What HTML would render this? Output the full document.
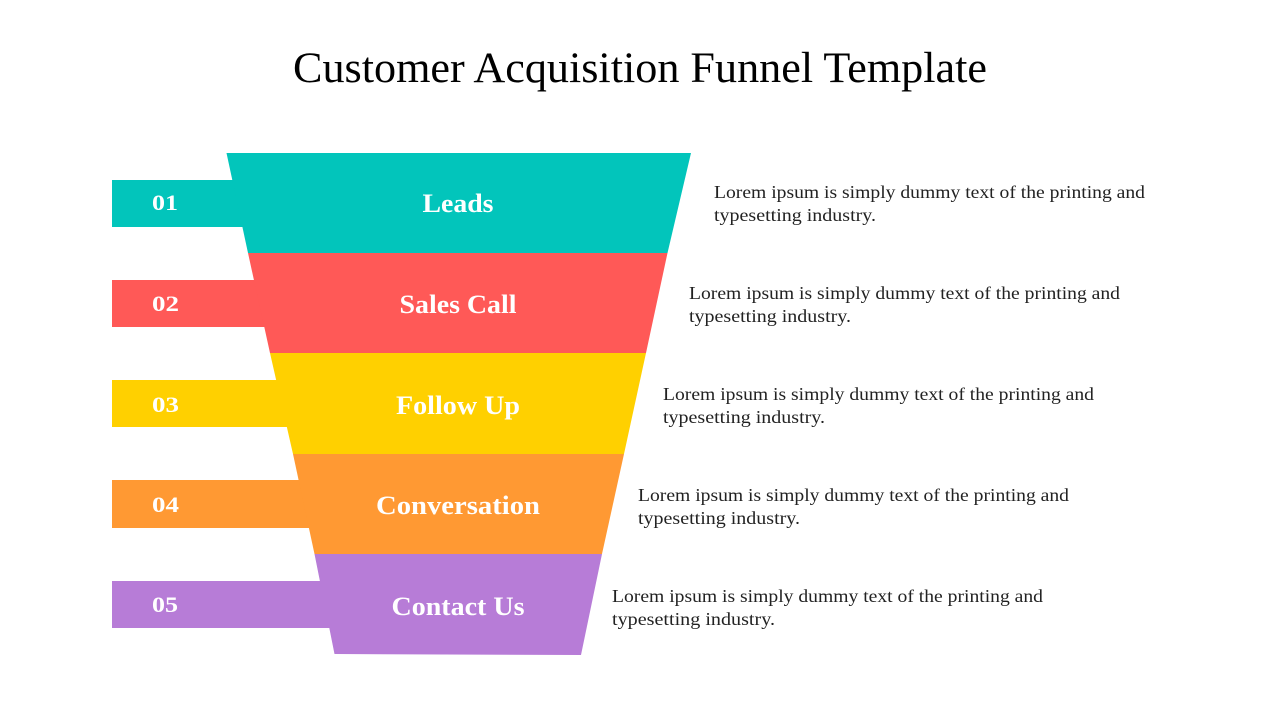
<!DOCTYPE html>
<html>
<head>
<meta charset="utf-8">
<style>
html,body{margin:0;padding:0;background:#fff;}
svg{display:block;}
</style>
</head>
<body>
<svg width="1280" height="720" viewBox="0 0 1280 720" xmlns="http://www.w3.org/2000/svg">
<rect width="1280" height="720" fill="#fff"/>
<text x="640" y="82" text-anchor="middle" font-family="Liberation Serif, serif" font-size="43" fill="#000" textLength="694" lengthAdjust="spacingAndGlyphs">Customer Acquisition Funnel Template</text>

<!-- tabs -->
<rect x="112" y="180" width="180" height="47" fill="#02C5BB"/>
<rect x="112" y="280" width="200" height="47" fill="#FF5957"/>
<rect x="112" y="380" width="220" height="47" fill="#FFD000"/>
<rect x="112" y="480" width="240" height="48" fill="#FF9933"/>
<rect x="112" y="581" width="260" height="47" fill="#B77CD7"/>

<!-- funnel bands -->
<polygon points="226.5,153 691,153 667.5,253 248,253" fill="#02C5BB"/>
<polygon points="248,253 667.5,253 646,353 270,353" fill="#FF5957"/>
<polygon points="270,353 646,353 624,454 293,454" fill="#FFD000"/>
<polygon points="293,454 624,454 602,554 314.5,554" fill="#FF9933"/>
<polygon points="314.5,554 602,554 581,655 334.5,654" fill="#B77CD7"/>

<!-- numbers -->
<g font-family="Liberation Serif, serif" font-weight="bold" font-size="22" fill="#fff">
<text x="152" y="210" textLength="26" lengthAdjust="spacingAndGlyphs">01</text>
<text x="152" y="311" textLength="27" lengthAdjust="spacingAndGlyphs">02</text>
<text x="152" y="412" textLength="27" lengthAdjust="spacingAndGlyphs">03</text>
<text x="152" y="512" textLength="27" lengthAdjust="spacingAndGlyphs">04</text>
<text x="152" y="612" textLength="26" lengthAdjust="spacingAndGlyphs">05</text>
</g>

<!-- labels -->
<g font-family="Liberation Serif, serif" font-weight="bold" font-size="26" fill="#fff" text-anchor="middle">
<text x="458" y="212" textLength="71" lengthAdjust="spacingAndGlyphs">Leads</text>
<text x="458" y="313" textLength="117" lengthAdjust="spacingAndGlyphs">Sales Call</text>
<text x="458" y="414" textLength="124" lengthAdjust="spacingAndGlyphs">Follow Up</text>
<text x="458" y="514" textLength="164" lengthAdjust="spacingAndGlyphs">Conversation</text>
<text x="458" y="615" textLength="133" lengthAdjust="spacingAndGlyphs">Contact Us</text>
</g>

<!-- descriptions -->
<g font-family="Liberation Serif, serif" font-size="18" fill="#222">
<text x="714" y="198" textLength="431" lengthAdjust="spacingAndGlyphs">Lorem ipsum is simply dummy text of the printing and</text>
<text x="714" y="221" textLength="162" lengthAdjust="spacingAndGlyphs">typesetting industry.</text>
<text x="689" y="299" textLength="431" lengthAdjust="spacingAndGlyphs">Lorem ipsum is simply dummy text of the printing and</text>
<text x="689" y="322" textLength="162" lengthAdjust="spacingAndGlyphs">typesetting industry.</text>
<text x="663" y="400" textLength="431" lengthAdjust="spacingAndGlyphs">Lorem ipsum is simply dummy text of the printing and</text>
<text x="663" y="423" textLength="162" lengthAdjust="spacingAndGlyphs">typesetting industry.</text>
<text x="638" y="501" textLength="431" lengthAdjust="spacingAndGlyphs">Lorem ipsum is simply dummy text of the printing and</text>
<text x="638" y="524" textLength="162" lengthAdjust="spacingAndGlyphs">typesetting industry.</text>
<text x="612" y="602" textLength="431" lengthAdjust="spacingAndGlyphs">Lorem ipsum is simply dummy text of the printing and</text>
<text x="612" y="625" textLength="163" lengthAdjust="spacingAndGlyphs">typesetting industry.</text>
</g>
</svg>
</body>
</html>
